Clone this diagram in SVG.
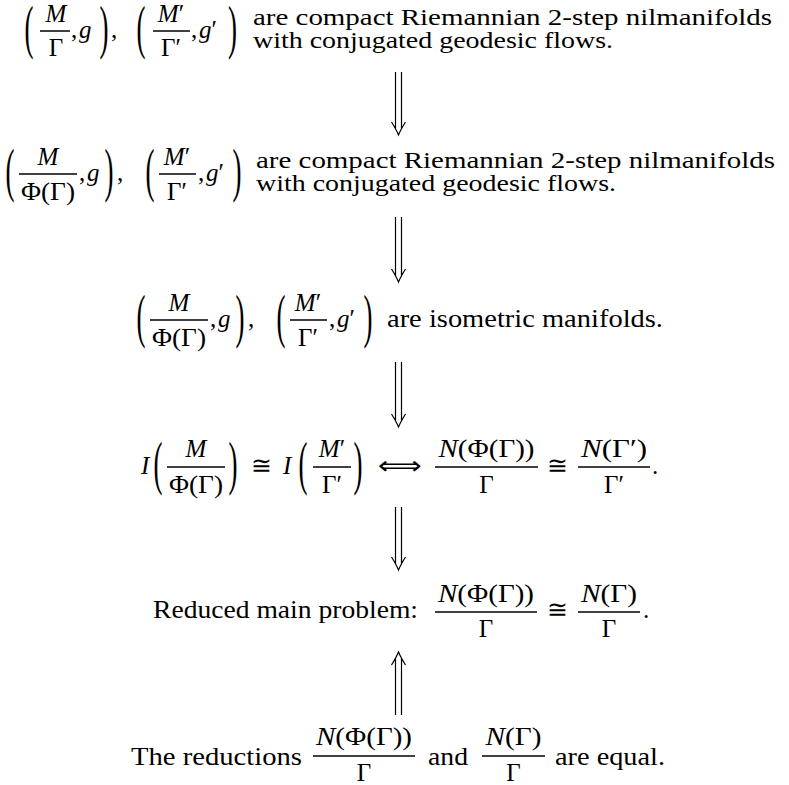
<svg xmlns="http://www.w3.org/2000/svg" width="789" height="785" viewBox="0 0 789 785" font-family="'Liberation Serif', 'Times New Roman', serif" font-size="25">
<style>
text{fill:#000}
.i{font-style:italic}
.m{text-anchor:middle}
.p{font-size:27px;text-anchor:middle}
.sm{font-size:23px}
.s{font-family:'DejaVu Sans', sans-serif}
.bar{stroke:#000;stroke-width:1.5}
.ar{stroke:#000;stroke-width:1.2;fill:none}
</style>
<rect width="789" height="785" fill="#fff"/>

<g id="n1">
<g transform="translate(29,7) scale(1,2.2)"><text class="p" y="18.25">(</text></g>
<text class="i m" x="56" y="22">M</text>
<line class="bar" x1="40" y1="31" x2="70" y2="31"/>
<text class="m" x="56" y="56">Γ</text>
<text x="71" y="38">,<tspan class="i" x="79">g</tspan></text>
<g transform="translate(104,7) scale(1,2.2)"><text class="p" y="18.25">)</text></g>
<text x="111" y="38">,</text>
<g transform="translate(141,7) scale(1,2.2)"><text class="p" y="18.25">(</text></g>
<text class="m" x="171" y="22"><tspan class="i">M</tspan>′</text>
<line class="bar" x1="153" y1="31" x2="190" y2="31"/>
<text class="m" x="171" y="56">Γ′</text>
<text x="191" y="38">,<tspan class="i" x="199">g</tspan>′</text>
<g transform="translate(232.5,7) scale(1,2.2)"><text class="p" y="18.25">)</text></g>
<text class="sm" x="253" y="25" textLength="519" lengthAdjust="spacingAndGlyphs">are compact Riemannian 2-step nilmanifolds</text>
<text class="sm" x="253" y="48" textLength="360" lengthAdjust="spacingAndGlyphs">with conjugated geodesic flows.</text>
</g>

<g id="n2">
<g transform="translate(10,150) scale(1,2.2)"><text class="p" y="18.25">(</text></g>
<text class="i m" x="48" y="165">M</text>
<line class="bar" x1="19" y1="174" x2="77" y2="174"/>
<text class="m" x="48" y="200" textLength="54" lengthAdjust="spacingAndGlyphs">Φ(Γ)</text>
<text x="79" y="181">,<tspan class="i" x="87">g</tspan></text>
<g transform="translate(109,150) scale(1,2.2)"><text class="p" y="18.25">)</text></g>
<text x="117" y="181">,</text>
<g transform="translate(150,150) scale(1,2.2)"><text class="p" y="18.25">(</text></g>
<text class="m" x="177" y="165"><tspan class="i">M</tspan>′</text>
<line class="bar" x1="159" y1="174" x2="196" y2="174"/>
<text class="m" x="177" y="200">Γ′</text>
<text x="198" y="181">,<tspan class="i" x="206">g</tspan>′</text>
<g transform="translate(237,150) scale(1,2.2)"><text class="p" y="18.25">)</text></g>
<text class="sm" x="256" y="168" textLength="519" lengthAdjust="spacingAndGlyphs">are compact Riemannian 2-step nilmanifolds</text>
<text class="sm" x="256" y="191" textLength="360" lengthAdjust="spacingAndGlyphs">with conjugated geodesic flows.</text>
</g>

<g id="n3">
<g transform="translate(141,296) scale(1,2.2)"><text class="p" y="18.25">(</text></g>
<text class="i m" x="179" y="311">M</text>
<line class="bar" x1="150" y1="320" x2="208" y2="320"/>
<text class="m" x="179" y="346" textLength="54" lengthAdjust="spacingAndGlyphs">Φ(Γ)</text>
<text x="210" y="327">,<tspan class="i" x="218">g</tspan></text>
<g transform="translate(240,296) scale(1,2.2)"><text class="p" y="18.25">)</text></g>
<text x="248" y="327">,</text>
<g transform="translate(281,296) scale(1,2.2)"><text class="p" y="18.25">(</text></g>
<text class="m" x="308" y="311"><tspan class="i">M</tspan>′</text>
<line class="bar" x1="290" y1="320" x2="327" y2="320"/>
<text class="m" x="308" y="346">Γ′</text>
<text x="329" y="327">,<tspan class="i" x="337">g</tspan>′</text>
<g transform="translate(368,296) scale(1,2.2)"><text class="p" y="18.25">)</text></g>
<text x="387" y="327" textLength="276" lengthAdjust="spacingAndGlyphs">are isometric manifolds.</text>
</g>

<g id="n4">
<text class="i" x="141" y="474">I</text>
<g transform="translate(158,443) scale(1,2.2)"><text class="p" y="18.25">(</text></g>
<text class="i m" x="196" y="457">M</text>
<line class="bar" x1="167" y1="467" x2="225" y2="467"/>
<text class="m" x="196" y="493" textLength="54" lengthAdjust="spacingAndGlyphs">Φ(Γ)</text>
<g transform="translate(233,443) scale(1,2.2)"><text class="p" y="18.25">)</text></g>
<text class="m" x="261" y="474">≅</text>
<text class="i" x="283" y="474">I</text>
<g transform="translate(303,443) scale(1,2.2)"><text class="p" y="18.25">(</text></g>
<text class="m" x="332" y="457"><tspan class="i">M</tspan>′</text>
<line class="bar" x1="313" y1="467" x2="351" y2="467"/>
<text class="m" x="332" y="493">Γ′</text>
<g transform="translate(358,443) scale(1,2.2)"><text class="p" y="18.25">)</text></g>
<text class="s" x="378" y="474" textLength="44" lengthAdjust="spacingAndGlyphs">⟺</text>
<text class="m" x="486.5" y="457" textLength="96" lengthAdjust="spacingAndGlyphs"><tspan class="i">N</tspan>(Φ(Γ))</text>
<line class="bar" x1="435" y1="467" x2="538" y2="467"/>
<text class="m" x="486.5" y="493">Γ</text>
<text class="m" x="557" y="474">≅</text>
<text class="m" x="614" y="457" textLength="66" lengthAdjust="spacingAndGlyphs"><tspan class="i">N</tspan>(Γ′)</text>
<line class="bar" x1="578" y1="467" x2="650" y2="467"/>
<text class="m" x="614" y="493">Γ′</text>
<text x="652" y="474">.</text>
</g>

<g id="n5">
<text x="153" y="618" textLength="265" lengthAdjust="spacingAndGlyphs">Reduced main problem:</text>
<text class="m" x="486" y="602" textLength="96" lengthAdjust="spacingAndGlyphs"><tspan class="i">N</tspan>(Φ(Γ))</text>
<line class="bar" x1="435" y1="612" x2="537" y2="612"/>
<text class="m" x="486" y="637">Γ</text>
<text class="m" x="557" y="618">≅</text>
<text class="m" x="609" y="602" textLength="56" lengthAdjust="spacingAndGlyphs"><tspan class="i">N</tspan>(Γ)</text>
<line class="bar" x1="578" y1="612" x2="640" y2="612"/>
<text class="m" x="609" y="637">Γ</text>
<text x="643" y="618">.</text>
</g>

<g id="n6">
<text x="131" y="765" textLength="171" lengthAdjust="spacingAndGlyphs">The reductions</text>
<text class="m" x="364" y="745" textLength="96" lengthAdjust="spacingAndGlyphs"><tspan class="i">N</tspan>(Φ(Γ))</text>
<line class="bar" x1="313" y1="756" x2="415" y2="756"/>
<text class="m" x="364" y="781">Γ</text>
<text x="428" y="765" textLength="40" lengthAdjust="spacingAndGlyphs">and</text>
<text class="m" x="513.5" y="745" textLength="56" lengthAdjust="spacingAndGlyphs"><tspan class="i">N</tspan>(Γ)</text>
<line class="bar" x1="482" y1="756" x2="545" y2="756"/>
<text class="m" x="513.5" y="781">Γ</text>
<text x="555" y="765" textLength="110" lengthAdjust="spacingAndGlyphs">are equal.</text>
</g>

<g id="connectors">
<path class="ar" d="M395.5,72V129M401.5,72V129M391.5,122Q396.5,130 398.5,135Q400.5,130 405.5,122"/>
<path class="ar" d="M395.5,217V276M401.5,217V276M391.5,269Q396.5,277 398.5,282Q400.5,277 405.5,269"/>
<path class="ar" d="M395.5,362V421M401.5,362V421M391.5,414Q396.5,422 398.5,427Q400.5,422 405.5,414"/>
<path class="ar" d="M395.5,507V564M401.5,507V564M391.5,557Q396.5,565 398.5,570Q400.5,565 405.5,557"/>
<path class="ar" d="M395.5,715V658M401.5,715V658M391.5,665Q396.5,657 398.5,652Q400.5,657 405.5,665"/>
</g>
</svg>
